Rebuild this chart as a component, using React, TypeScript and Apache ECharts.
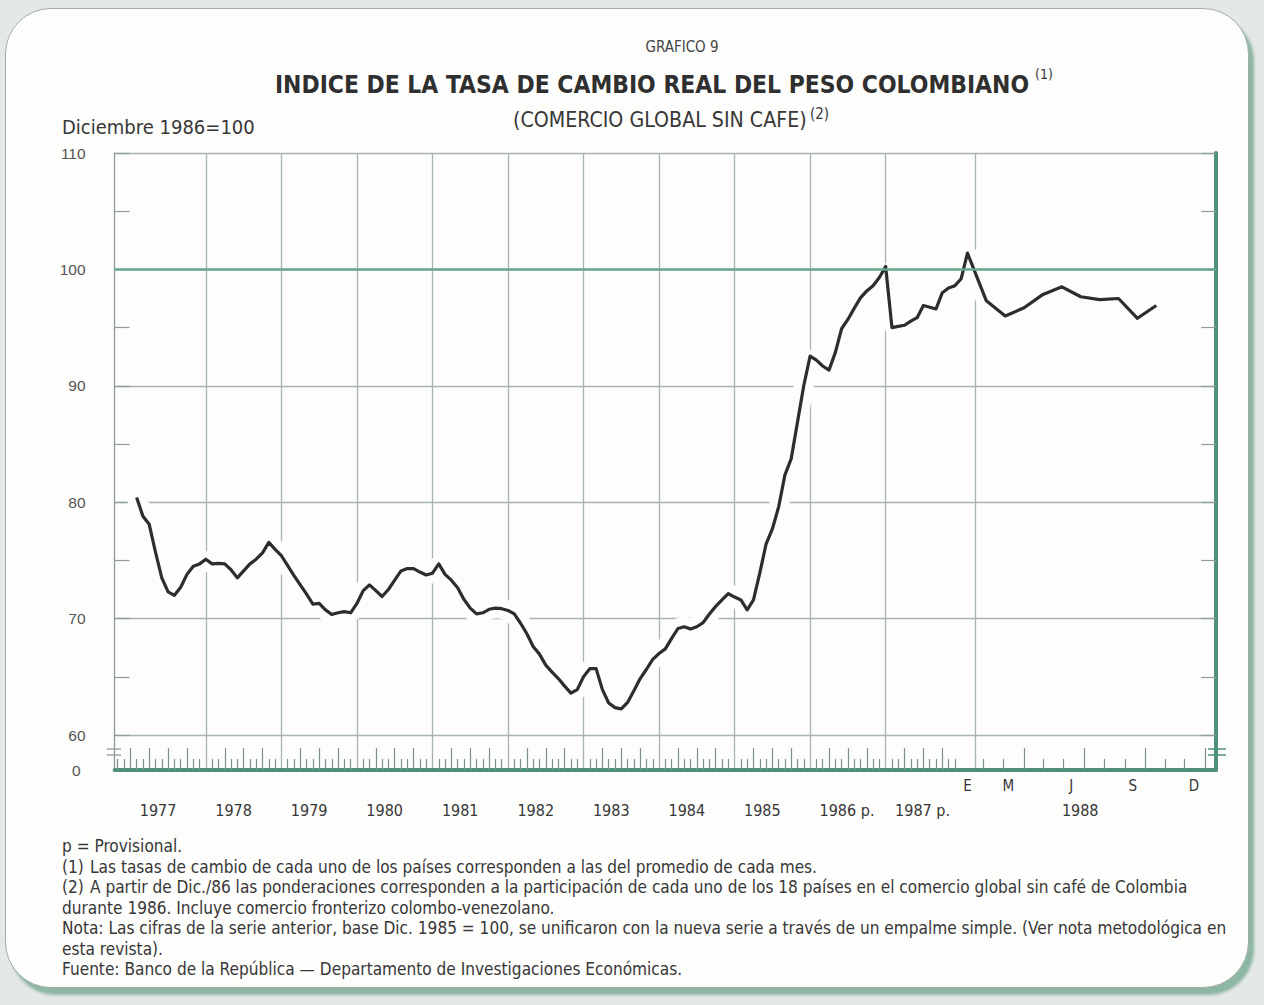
import React, { useEffect, useRef } from "react";
import * as echarts from "echarts";

// ---------------- DATA ----------------
// Monthly index of the real exchange rate, Jan 1977 .. Dec 1987 (Dic. 1986 = 100)
const INDEX_1977: number[] = [80.4, 78.8, 78.1, 75.7, 73.5, 72.3, 72.0, 72.7, 73.8, 74.5, 74.7, 75.1];
const INDEX_1978: number[] = [74.7, 74.75, 74.7, 74.2, 73.5, 74.1, 74.7, 75.1, 75.65, 76.55, 75.95, 75.4];
const INDEX_1979: number[] = [74.55, 73.7, 72.9, 72.1, 71.25, 71.3, 70.75, 70.35, 70.5, 70.6, 70.5, 71.3];
const INDEX_1980: number[] = [72.4, 72.9, 72.4, 71.9, 72.5, 73.3, 74.1, 74.3, 74.3, 74.0, 73.75, 73.9];
const INDEX_1981: number[] = [74.7, 73.8, 73.3, 72.65, 71.65, 70.9, 70.4, 70.5, 70.8, 70.9, 70.85, 70.7];
const INDEX_1982: number[] = [70.4, 69.6, 68.7, 67.6, 66.95, 66.0, 65.4, 64.85, 64.2, 63.6, 63.9, 65.0];
const INDEX_1983: number[] = [65.7, 65.7, 63.9, 62.75, 62.35, 62.25, 62.8, 63.8, 64.85, 65.65, 66.5, 67.0];
const INDEX_1984: number[] = [67.4, 68.3, 69.15, 69.3, 69.1, 69.3, 69.65, 70.4, 71.05, 71.6, 72.15, 71.85];
const INDEX_1985: number[] = [71.6, 70.75, 71.6, 73.9, 76.4, 77.7, 79.6, 82.35, 83.75, 86.9, 90.05, 92.55];
const INDEX_1986: number[] = [92.2, 91.7, 91.35, 92.85, 94.9, 95.7, 96.65, 97.55, 98.15, 98.6, 99.3, 100.25];
const INDEX_1987: number[] = [95.0, 95.1, 95.2, 95.55, 95.85, 96.9, 96.75, 96.6, 98.0, 98.4, 98.6, 99.2];
// 1988 (expanded scale), Jan .. Nov
const INDEX_1988: number[] = [101.4, 97.3, 96.0, 96.7, 97.85, 98.5, 97.65, 97.4, 97.5, 95.8, 96.9];

const YEAR_LABELS: string[] = ["1977", "1978", "1979", "1980", "1981", "1982", "1983", "1984", "1985", "1986 p.", "1987 p.", "1988"];
const MONTH_LETTERS_1988: string[] = ["E", "", "M", "", "", "J", "", "", "S", "", "", "D"];

const TITLE_SMALL = "GRAFICO 9";
const TITLE_MAIN = "INDICE DE LA TASA DE CAMBIO REAL DEL PESO COLOMBIANO";
const TITLE_MAIN_NOTE = "(1)";
const SUBTITLE = "(COMERCIO GLOBAL SIN CAFE)";
const SUBTITLE_NOTE = "(2)";
const UNIT_LABEL = "Diciembre 1986=100";

const NOTES: [string, string][] = [
  ["", "p = Provisional."],
  ["(1)", "Las tasas de cambio de cada uno de los países corresponden a las del promedio de cada mes."],
  ["(2)", "A partir de Dic./86 las ponderaciones corresponden a la participación de cada uno de los 18 países en el comercio global sin café de Colombia"],
  ["", "durante 1986. Incluye comercio fronterizo colombo-venezolano."],
  ["", "Nota: Las cifras de la serie anterior, base Dic. 1985 = 100, se unificaron con la nueva serie a través de un empalme simple. (Ver nota metodológica en"],
  ["", "esta revista)."],
  ["", "Fuente: Banco de la República — Departamento de Investigaciones Económicas."],
];

// ---------------- AXIS STRUCTURE (slots of a category axis) ----------------
// Before 1988 one month = 4 slots; 1988 is drawn on an expanded scale (12 slots a month).
const N_SLOTS = 701;
const YEAR0_SLOT = 10; // start of Jan 1977
const SLOTS_PER_MONTH = 4;
const FIRST_POINT_SLOT = 14;
const SLOTS_PER_MONTH_1988 = 12;
const YEAR_LINE_1988 = 547;
const TICK_BASE_1988 = 539;
const TICK_STEP_1988 = 12.85;
const LABEL_STEP_1988 = 13.1;

const PRE_1988 = [
  ...INDEX_1977, ...INDEX_1978, ...INDEX_1979, ...INDEX_1980, ...INDEX_1981, ...INDEX_1982,
  ...INDEX_1983, ...INDEX_1984, ...INDEX_1985, ...INDEX_1986, ...INDEX_1987,
];
const JAN88_SLOT = FIRST_POINT_SLOT + SLOTS_PER_MONTH * PRE_1988.length;

const slots: string[] = Array.from({ length: N_SLOTS }, (_, i) => String(i));
const seriesData: (number | null)[] = new Array(N_SLOTS).fill(null);
PRE_1988.forEach((v, m) => { seriesData[FIRST_POINT_SLOT + SLOTS_PER_MONTH * m] = v; });
INDEX_1988.forEach((v, j) => { seriesData[JAN88_SLOT + SLOTS_PER_MONTH_1988 * j] = v; });

const yearLines = new Set<number>();
const shortTicks = new Set<number>();
const tallTicks = new Set<number>();
for (let q = -2; q < PRE_1988.length; q++) {
  const s = YEAR0_SLOT + SLOTS_PER_MONTH * q;
  if (q > 0 && q % 12 === 0) yearLines.add(s);
  else if (q % 3 === 0) tallTicks.add(s);
  else shortTicks.add(s);
}
yearLines.add(YEAR_LINE_1988);
for (let k = 1; k <= 12; k++) {
  const s = Math.round(TICK_BASE_1988 + TICK_STEP_1988 * k);
  if (k % 3 === 0) tallTicks.add(s);
  else shortTicks.add(s);
}
const monthLabels = new Map<number, string>();
MONTH_LETTERS_1988.forEach((l, j) => { if (l) monthLabels.set(Math.round(JAN88_SLOT + LABEL_STEP_1988 * j), l); });
const yearLabels = new Map<number, string>();
YEAR_LABELS.forEach((l, k) => {
  const s = k < 11 ? YEAR0_SLOT + 48 * k + 6 : JAN88_SLOT + SLOTS_PER_MONTH_1988 * 5;
  yearLabels.set(s, l);
});

// ---------------- STYLE ----------------
const FONT_NARROW = "'Liberation Sans Narrow', 'Arial Narrow', 'DejaVu Sans Condensed', sans-serif";
const FONT_REG = "'Liberation Sans', Arial, sans-serif";
const TEAL = "#4f9178";
const TEAL_100 = "#6aa58e";
const GRID_GRAY = "#a6b5af";
const AXIS_GRAY = "#8d9c96";
const TEXT = "#373737";
const GRID_LEFT = 114.6;
const GRID_WIDTH = 1101.5;
const NOTE_SIZE = 17.1;

function txt(x: number, y: number, text: string, fontSize: number, o: any = {}) {
  const align = o.align || "left";
  return {
    type: "text",
    silent: true,
    x, y,
    style: {
      text,
      fontSize,
      fontFamily: o.font || FONT_NARROW,
      fontWeight: o.weight || "normal",
      fill: o.fill || TEXT,
      align, textAlign: align,
      verticalAlign: "middle", textVerticalAlign: "middle",
    },
  };
}

function buildOption(): any {
  const graphics: any[] = [
    txt(682, 47, TITLE_SMALL, 15, { align: "center", fill: "#444" }),
    txt(652, 84, TITLE_MAIN, 24.4, { align: "center", weight: "bold", fill: "#2f2f2f" }),
    txt(1035, 74, TITLE_MAIN_NOTE, 14),
    txt(513, 119, SUBTITLE, 21.2),
    txt(810, 114, SUBTITLE_NOTE, 15),
    txt(62, 127, UNIT_LABEL, 20),
  ];
  NOTES.forEach(([a, b], i) => {
    const y = 846 + 20.5 * i;
    if (a) {
      graphics.push(txt(62, y, a, NOTE_SIZE));
      graphics.push(txt(90, y, b, NOTE_SIZE));
    } else {
      graphics.push(txt(62, y, b, NOTE_SIZE));
    }
  });
  // axis break marks
  graphics.push({ type: "rect", silent: true, shape: { x: 110, y: 749, width: 9, height: 6 }, style: { fill: "#fdfdfc" } });
  graphics.push({ type: "line", silent: true, shape: { x1: 107, y1: 749, x2: 121, y2: 749 }, style: { stroke: AXIS_GRAY, lineWidth: 1.3 } });
  graphics.push({ type: "line", silent: true, shape: { x1: 107, y1: 755, x2: 121, y2: 755 }, style: { stroke: AXIS_GRAY, lineWidth: 1.3 } });
  graphics.push({ type: "rect", silent: true, shape: { x: 1211, y: 749, width: 11, height: 6 }, style: { fill: "#fdfdfc" } });
  graphics.push({ type: "line", silent: true, shape: { x1: 1208, y1: 749, x2: 1226, y2: 749 }, style: { stroke: TEAL, lineWidth: 1.5 } });
  graphics.push({ type: "line", silent: true, shape: { x1: 1208, y1: 755, x2: 1226, y2: 755 }, style: { stroke: TEAL, lineWidth: 1.5 } });

  const gridLine = { color: GRID_GRAY, width: 1.3 };
  return {
    animation: false,
    backgroundColor: "transparent",
    grid: [
      { left: GRID_LEFT, top: 153, width: GRID_WIDTH, height: 582 },
      { left: GRID_LEFT, top: 735, width: GRID_WIDTH, height: 35 },
    ],
    xAxis: [
      {
        type: "category", gridIndex: 0, data: slots, boundaryGap: false,
        axisLine: { show: false, onZero: false }, axisTick: { show: false }, axisLabel: { show: false },
        splitLine: { show: true, interval: (i: number) => yearLines.has(i), lineStyle: gridLine },
      },
      {
        type: "category", gridIndex: 1, data: slots, boundaryGap: false, position: "bottom",
        axisLine: { show: true, onZero: false, lineStyle: { color: TEAL, width: 4 } },
        axisTick: { show: true, inside: true, length: 11, interval: (i: number) => shortTicks.has(i), lineStyle: { color: "#7f918a", width: 1.2 } },
        axisLabel: {
          show: true, interval: (i: number) => monthLabels.has(i),
          formatter: (_v: string, i: number) => monthLabels.get(i) || "",
          margin: 8, fontFamily: FONT_NARROW, fontSize: 15, color: TEXT,
        },
        splitLine: { show: true, interval: (i: number) => yearLines.has(i), lineStyle: gridLine },
      },
      {
        type: "category", gridIndex: 1, data: slots, boundaryGap: false, position: "bottom",
        axisLine: { show: false, onZero: false },
        axisTick: { show: true, inside: true, length: 22, interval: (i: number) => tallTicks.has(i), lineStyle: { color: "#7f918a", width: 1.2 } },
        axisLabel: {
          show: true, interval: (i: number) => yearLabels.has(i),
          formatter: (_v: string, i: number) => yearLabels.get(i) || "",
          margin: 32, align: "left", fontFamily: FONT_NARROW, fontSize: 16, color: TEXT,
        },
        splitLine: { show: false },
      },
    ],
    yAxis: [
      {
        type: "value", gridIndex: 0, position: "left", min: 60, max: 110, interval: 10,
        axisLine: { show: true, lineStyle: { color: AXIS_GRAY, width: 1.3 } },
        axisTick: { show: true, inside: true, length: 15, lineStyle: { color: AXIS_GRAY, width: 1.2 } },
        minorTick: { show: true, splitNumber: 2, length: 15, lineStyle: { color: AXIS_GRAY, width: 1.2 } },
        axisLabel: { margin: 29, fontFamily: FONT_REG, fontSize: 15.5, color: "#555" },
        splitLine: { show: true, lineStyle: gridLine },
      },
      {
        type: "value", gridIndex: 0, position: "right", min: 60, max: 110, interval: 10,
        axisLine: { show: true, lineStyle: { color: TEAL, width: 4 } },
        axisTick: { show: true, inside: true, length: 15, lineStyle: { color: AXIS_GRAY, width: 1.2 } },
        minorTick: { show: true, splitNumber: 2, length: 15, lineStyle: { color: AXIS_GRAY, width: 1.2 } },
        axisLabel: { show: false }, splitLine: { show: false },
      },
      {
        type: "value", gridIndex: 1, position: "left", min: 0, max: 1, interval: 1,
        axisLine: { show: true, lineStyle: { color: AXIS_GRAY, width: 1.3 } },
        axisTick: { show: false },
        axisLabel: { margin: 34, fontFamily: FONT_REG, fontSize: 15.5, color: "#555", formatter: (v: number) => (v === 0 ? "0" : "") },
        splitLine: { show: false },
      },
      {
        type: "value", gridIndex: 1, position: "right", min: 0, max: 1, interval: 1,
        axisLine: { show: true, lineStyle: { color: TEAL, width: 4 } },
        axisTick: { show: false }, axisLabel: { show: false }, splitLine: { show: false },
      },
    ],
    series: [
      {
        type: "line", name: "base100", xAxisIndex: 0, yAxisIndex: 0, data: seriesData, connectNulls: true,
        symbol: "none", lineStyle: { opacity: 0 }, z: 1, silent: true,
        markLine: { silent: true, symbol: "none", label: { show: false }, lineStyle: { color: TEAL_100, width: 2.6, type: "solid" }, data: [{ yAxis: 100 }] },
      },
      {
        type: "line", name: "halo", xAxisIndex: 0, yAxisIndex: 0, data: seriesData, connectNulls: true,
        symbol: "none", lineStyle: { color: "#fdfdfc", width: 20 }, z: 2, silent: true,
      },
      {
        type: "line", name: "Indice", xAxisIndex: 0, yAxisIndex: 0, data: seriesData, connectNulls: true,
        symbol: "none", lineStyle: { color: "#2d2d2d", width: 3.2, join: "round" }, z: 3,
      },
    ],
    graphic: graphics,
  };
}

export default function App() {
  const ref = useRef<HTMLDivElement>(null);
  useEffect(() => {
    if (!ref.current) return;
    const chart = echarts.init(ref.current, null, { renderer: "svg" });
    chart.setOption(buildOption());
    return () => chart.dispose();
  }, []);
  return (
    <div style={{ position: "fixed", left: 0, top: 0, width: 1264, height: 1005, background: "#e4e8e6", overflow: "hidden" }}>
      <div style={{ position: "absolute", left: 5, top: 8, width: 1242, height: 978, borderRadius: 46, border: "1.5px solid #a2ada8", background: "#fdfdfc", boxShadow: "5px 7px 3px rgba(70,140,110,0.55)" }} />
      <div ref={ref} style={{ position: "absolute", left: 0, top: 0, width: 1264, height: 1005 }} />
    </div>
  );
}
